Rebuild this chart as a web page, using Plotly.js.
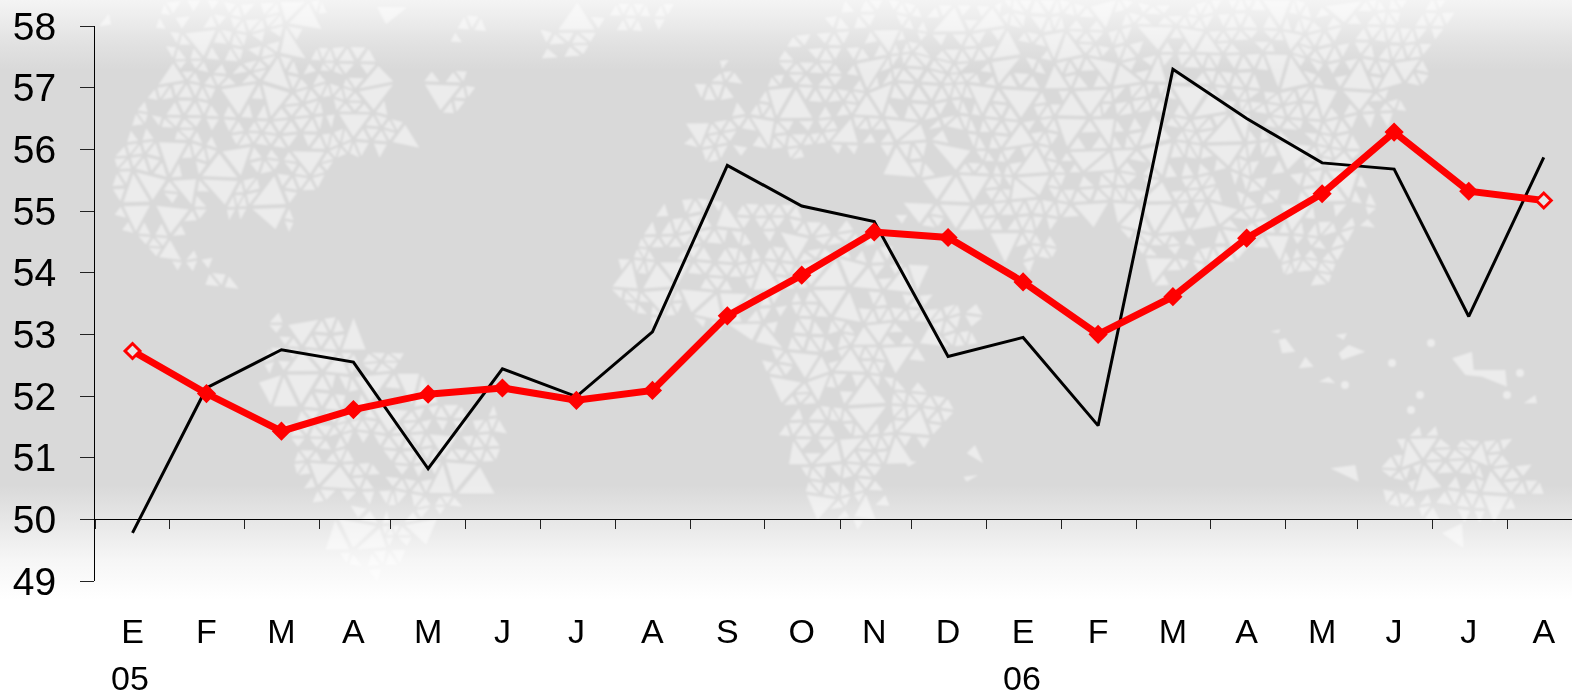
<!DOCTYPE html>
<html>
<head>
<meta charset="utf-8">
<script src="https://cdn.plot.ly/plotly-3.0.1.min.js"></script>
<style>
html,body{margin:0;padding:0;background:#fff;overflow:hidden}
#bg{position:absolute;left:0;top:0;z-index:0}
#chart{position:absolute;left:0;top:0;width:1572px;height:693px;z-index:1}
</style>
</head>
<body>
<canvas id="bg" width="1572" height="693"></canvas>
<div id="chart"></div>
<script>
// ---- data ----
const monthLabels = ["E","F","M","A","M","J","J","A","S","O","N","D","E","F","M","A","M","J","J","A"];
const monthPositions = [0,0.996,2.005,2.974,3.98,4.98,5.976,7,8.008,9.01,9.986,10.98,11.99,13,14.007,15,16.016,16.985,17.99,19];
const monthBoundaries = [-0.505,0.498,1.507,2.517,3.479,4.488,5.491,6.5,7.506,8.513,9.529,10.484,11.494,12.503,13.513,14.509,15.518,16.487,17.497,18.506];
const blackSeries = [49.78,52.13,52.75,52.55,50.82,52.44,51.99,53.04,55.74,55.08,54.83,52.64,52.95,51.52,57.30,56.50,55.78,55.68,53.29,55.87];
const redSeries = [52.73,52.04,51.43,51.78,52.03,52.13,51.93,52.09,53.30,53.96,54.66,54.57,53.85,53.00,53.61,54.56,55.28,56.28,55.32,55.17];
const yearLabels = ["05","06"];
const yearPositions = [-0.03,11.98];
const yTicks = [49,50,51,52,53,54,55,56,57,58];

// ---- decorative backdrop: grey band and faint triangulated world map ----
(function(){
  const c = document.getElementById('bg'), g = c.getContext('2d');
  const gr = g.createLinearGradient(0,0,0,693);
  [[0,'#f4f4f4'],[20,'#ececec'],[45,'#e1e1e1'],[70,'#d9d9d9'],[485,'#d9d9d9'],[519,'#e6e6e6'],[560,'#f6f6f6'],[600,'#ffffff'],[693,'#ffffff']]
    .forEach(s=>gr.addColorStop(s[0]/693,s[1]));
  g.fillStyle = gr; g.fillRect(0,0,1572,693);
  const z=(ox,oy,a)=>a.map(p=>[ox+p[0]/3,oy+p[1]/3]);
  const regions = [
    z(90,0,[[210,0],[700,0],[700,140],[830,150],[915,210],[870,260],[980,320],[900,345],[1010,420],[860,450],[760,480],[700,520],[690,570],[620,590],[600,700],[500,640],[300,660],[310,700],[220,710],[320,770],[400,790],[460,890],[410,900],[340,830],[200,790],[170,740],[130,710],[80,660],[65,520],[80,400],[140,340],[150,290],[250,260],[210,220],[230,170],[200,90]]),
    z(90,0,[[30,70],[130,0],[180,20],[60,80]]),
    z(90,0,[[850,0],[920,50],[1040,50],[1090,10],[1210,50],[1130,140],[1070,120],[1110,60],[900,50]]),
    z(90,0,[[985,205],[1145,210],[1160,320],[1040,350],[1010,285]]),
    z(90,0,[[1370,60],[1350,170],[1440,190],[1560,60],[1480,20]]),
    z(600,0,[[0,60],[60,20],[210,20],[210,70],[70,90]]),
    z(600,0,[[280,270],[380,170],[410,210],[400,300],[330,290]]),
    [[680,140],[713,123],[733,113],[767,80],[773,47],[817,20],[867,0],[1455,0],[1452,13],[1422,80],[1405,113],[1352,140],[1395,220],[1342,240],[1342,287],[1319,290],[1282,270],[1259,247],[1219,263],[1152,293],[1122,233],[1102,210],[1095,230],[1065,227],[1052,210],[1060,250],[1027,267],[967,227],[890,220],[933,190],[913,187],[883,180],[857,170],[857,157],[827,150],[787,157],[753,143],[727,157],[700,170]],
    [[620,250],[647,227],[660,210],[697,200],[733,197],[773,200],[867,233],[920,273],[930,300],[980,310],[973,343],[917,357],[917,387],[960,407],[940,437],[913,447],[873,470],[887,503],[867,527],[817,513],[807,487],[790,447],[783,430],[793,407],[767,383],[747,363],[743,327],[640,320],[615,290]],
    z(200,300,[[130,50],[300,60],[400,60],[520,110],[600,150],[600,240],[660,210],[760,310],[910,340],[880,540],[760,620],[660,700],[620,720],[610,770],[540,830],[420,760],[390,650],[330,580],[280,490],[280,440],[190,300],[190,190],[240,120]]),
    z(1052,300,[[1030,440],[1070,400],[1240,380],[1350,410],[1420,490],[1440,560],[1470,570],[1440,590],[1380,640],[1350,660],[1220,650],[1120,650],[1060,610],[970,600],[1000,510]])
  ];
  const solid = [
    z(1052,300,[[680,120],[700,115],[730,155],[690,160]]),
    z(1052,300,[[760,170],[785,200],[740,205]]),
    z(1052,300,[[860,160],[890,135],[940,155],[870,180]]),
    z(1052,300,[[800,245],[830,230],[850,250]]),
    z(1052,300,[[1200,175],[1260,155],[1265,210],[1360,210],[1365,260],[1290,230],[1240,225]]),
    z(1052,300,[[835,505],[910,495],[920,545]]),
    z(1052,300,[[1170,700],[1230,670],[1235,745]]),
    z(1052,300,[[1415,310],[1450,285],[1455,310]]),
    z(1052,300,[[655,95],[685,88],[680,100]]),
    z(1052,300,[[850,105],[885,100],[875,120]]),
    z(700,300,[[800,460],[825,435],[850,490]]),
    z(700,300,[[790,530],[835,525],[800,545]]),
    z(700,300,[[610,480],[650,485],[625,500]])
  ];
  const dots = [[1431,343],[1392,363],[1520,373],[1507,395],[1411,410],[1345,385],[1420,395]];
  const inside=(x,y,p)=>{let r=false;for(let i=0,j=p.length-1;i<p.length;j=i++){
    if((p[i][1]>y)!==(p[j][1]>y)&&x<(p[j][0]-p[i][0])*(y-p[i][1])/(p[j][1]-p[i][1])+p[i][0])r=!r;}return r;};
  const h=(a,b,k)=>{const s=Math.sin(a*127.1+b*311.7+k*74.7)*43758.5453;return s-Math.floor(s);};
  const off=document.createElement('canvas');off.width=1572;off.height=693;
  const o=off.getContext('2d');
  o.fillStyle='#ffffff';
  const SX=34,SY=29;
  const V=(i,j)=>[i*SX+(j%2?SX/2:0)+(h(i,j,1)-.5)*14,j*SY+(h(i,j,2)-.5)*12];
  const tri=(a,b,c,s,on)=>{
    if(!on)return;
    const cx=(a[0]+b[0]+c[0])/3,cy=(a[1]+b[1]+c[1])/3;
    if(!regions.some(p=>inside(cx,cy,p)))return;
    o.beginPath();
    [a,b,c].forEach((q,i)=>{const X=cx+(q[0]-cx)*s,Y=cy+(q[1]-cy)*s;i?o.lineTo(X,Y):o.moveTo(X,Y);});
    o.closePath();o.fill();
  };
  const mid=(a,b)=>[(a[0]+b[0])/2,(a[1]+b[1])/2];
  const cell=(a,b,c,i,j,k)=>{
    const r=h(i,j,10+k);
    if(r<.28){tri(a,b,c,.82,true);return;}
    const m=mid(a,b),n=mid(b,c),q=mid(c,a);
    tri(a,m,q,.72,h(i,j,20+k)>.2);
    tri(m,b,n,.72,h(i,j,30+k)>.2);
    tri(q,n,c,.72,h(i,j,40+k)>.2);
    tri(m,n,q,.7,h(i,j,50+k)>.45);
  };
  for(let j=-1;j<24;j++){
    for(let i=-1;i<48;i++){
      const odd=j%2!==0;
      const a=V(i,j),b=V(i+1,j),c=odd?V(i+1,j+1):V(i,j+1),d=odd?V(i,j+1):V(i-1,j+1);
      cell(a,b,c,i,j,0);
      cell(a,d,c,i,j,1);
    }
  }
  solid.forEach(p=>{o.beginPath();p.forEach((q,i)=>i?o.lineTo(q[0],q[1]):o.moveTo(q[0],q[1]));o.closePath();o.fill();});
  dots.forEach(d=>{o.beginPath();o.arc(d[0],d[1],4,0,6.283);o.fill();});
  g.globalAlpha=.5;
  g.filter='blur(1.1px)';
  g.drawImage(off,0,0);
  g.filter='none';
  g.globalAlpha=1;
})();

// ---- chart ----
const FONT = '"Liberation Sans", Arial, sans-serif';
const last = redSeries.length-1;
const traces = [
  {x:monthPositions,y:blackSeries,type:'scatter',mode:'lines',xaxis:'x',yaxis:'y',cliponaxis:false,
   line:{color:'#000000',width:3},hoverinfo:'skip',showlegend:false},
  {x:monthPositions,y:redSeries,type:'scatter',mode:'lines+markers',xaxis:'x',yaxis:'y',cliponaxis:false,
   line:{color:'#ff0000',width:7},
   marker:{symbol:'diamond',size:11.5,
     color:redSeries.map((v,i)=>(i===0||i===last)?'#e6e6e6':'#ff0000'),
     line:{color:'#ff0000',width:3}},hoverinfo:'skip',showlegend:false},
  {x:monthPositions,y:monthPositions.map(()=>49),type:'scatter',mode:'none',xaxis:'x2',yaxis:'y',hoverinfo:'skip',showlegend:false}
];
const xRange = [-0.505,19.38];
const layout = {
  width:1572,height:693,
  margin:{l:94.5,r:0,t:26,b:112,pad:0},
  paper_bgcolor:'rgba(0,0,0,0)',plot_bgcolor:'rgba(0,0,0,0)',
  font:{family:FONT,color:'#000000'},
  showlegend:false,
  xaxis:{range:xRange,anchor:'free',position:1/9,fixedrange:true,showgrid:false,zeroline:false,
    showline:true,linecolor:'#000000',linewidth:1,
    tickmode:'array',tickvals:monthBoundaries,ticktext:monthBoundaries.map(()=>''),
    ticks:'outside',ticklen:9,tickwidth:1,tickcolor:'#222222',showticklabels:false},
  xaxis2:{range:xRange,overlaying:'x',anchor:'y',side:'bottom',fixedrange:true,showgrid:false,zeroline:false,
    showline:false,tickmode:'array',tickvals:monthPositions,ticktext:monthLabels,ticks:'',
    tickangle:0,ticklabeloverflow:'allow',
    tickfont:{family:FONT,size:34,color:'#000000'},ticklabelstandoff:27},
  yaxis:{range:[49,58],fixedrange:true,showgrid:false,zeroline:false,showline:true,linecolor:'#000000',linewidth:1,
    tickmode:'array',tickvals:yTicks,ticktext:yTicks.map(String),ticks:'outside',ticklen:14,tickwidth:1,tickcolor:'#222222',
    tickfont:{family:FONT,size:39,color:'#000000'},ticklabelstandoff:16},
  annotations:yearLabels.map((t,i)=>({text:t,x:yearPositions[i],xref:'x',y:0,yref:'paper',yanchor:'top',xanchor:'center',
    yshift:-76,showarrow:false,font:{family:FONT,size:34,color:'#000000'}}))
};
Plotly.newPlot('chart',traces,layout,{displayModeBar:false,staticPlot:true,responsive:false});
</script>
</body>
</html>
